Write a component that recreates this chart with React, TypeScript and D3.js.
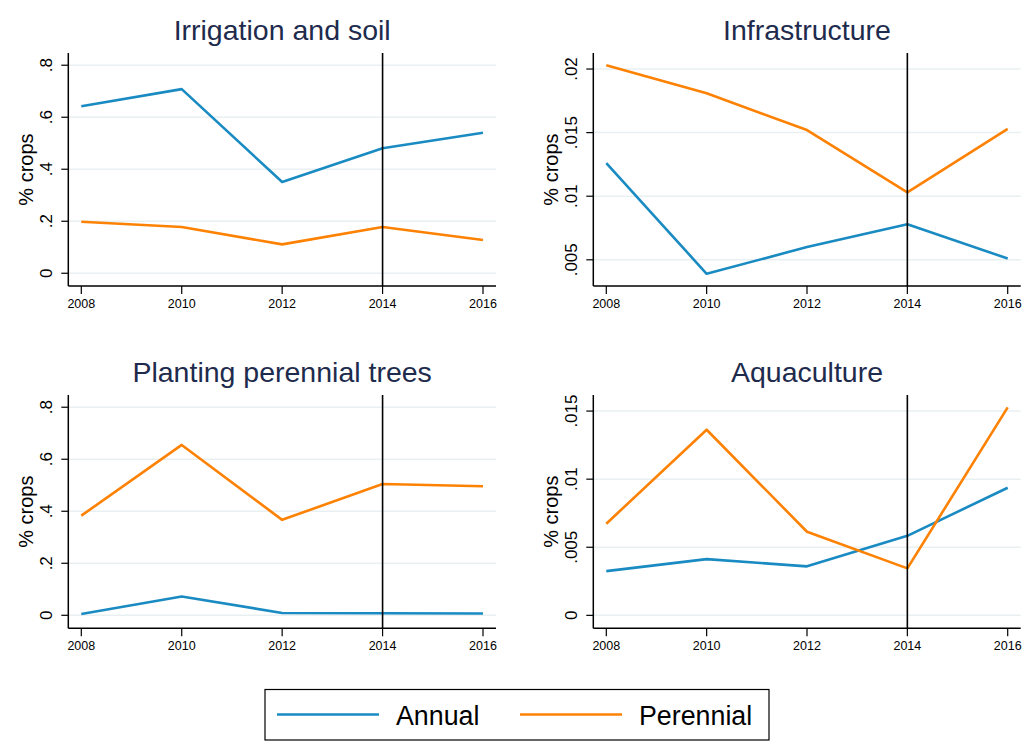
import React from 'react'
import * as d3 from 'd3'

const years = [2008, 2010, 2012, 2014, 2016]

const irrigationAnnual = [0.642, 0.708, 0.351, 0.481, 0.54]
const irrigationPerennial = [0.198, 0.178, 0.111, 0.178, 0.128]
const infraAnnual = [0.0126, 0.0039, 0.006, 0.0078, 0.0051]
const infraPerennial = [0.0203, 0.0181, 0.0152, 0.0103, 0.0153]
const treesAnnual = [0.005, 0.072, 0.009, 0.008, 0.007]
const treesPerennial = [0.383, 0.655, 0.367, 0.505, 0.496]
const aquaAnnual = [0.00325, 0.00413, 0.0036, 0.00584, 0.00937]
const aquaPerennial = [0.00673, 0.01363, 0.00614, 0.00345, 0.01527]

const shareTicks = [0, 0.2, 0.4, 0.6, 0.8]
const infraTicks = [0.005, 0.01, 0.015, 0.02]
const aquaTicks = [0, 0.005, 0.01, 0.015]

const seriesNames = ['Annual', 'Perennial']
const eventYear = 2014

const BLUE = '#1a8bc2'
const ORANGE = '#fd8204'
const TITLE = '#1e2b4d'
const FONT = '"Liberation Sans", Arial, Helvetica, sans-serif'

const W = 1033
const H = 742

// plot boxes, matched to the original Stata graph
const panels = [
  { title: 'Irrigation and soil', annual: irrigationAnnual, perennial: irrigationPerennial, ticks: shareTicks,
    yDomain: [-0.049, 0.847], left: 68.3, right: 496, top: 53, bottom: 286 },
  { title: 'Infrastructure', annual: infraAnnual, perennial: infraPerennial, ticks: infraTicks,
    yDomain: [0.00294, 0.02126], left: 593.3, right: 1020.7, top: 53, bottom: 286 },
  { title: 'Planting perennial trees', annual: treesAnnual, perennial: treesPerennial, ticks: shareTicks,
    yDomain: [-0.05, 0.847], left: 68.3, right: 496, top: 395, bottom: 628.3 },
  { title: 'Aquaculture', annual: aquaAnnual, perennial: aquaPerennial, ticks: aquaTicks,
    yDomain: [-0.00095, 0.01618], left: 593.3, right: 1020.7, top: 395, bottom: 628.3 },
]

const fmt = (v: number) => (v === 0 ? '0' : String(+v.toFixed(4)).replace(/^0\./, '.'))

function Panel({ p }: { p: any }) {
  const x = d3.scaleLinear().domain([2008, 2016]).range([p.left + 13, p.right - 13])
  const y = d3.scaleLinear().domain(p.yDomain).range([p.bottom, p.top])
  const line = d3.line<number>()
    .x((_, i) => x(years[i]))
    .y(d => y(d))
  const cy = (p.top + p.bottom) / 2

  return (
    <g>
      <text x={(p.left + p.right) / 2} y={p.top - 13} textAnchor="middle"
        fontSize={28.5} fill={TITLE} fontFamily={FONT}>{p.title}</text>

      {/* gridlines */}
      {p.ticks.map((t: number) => (
        <line key={'g' + t} x1={p.left} x2={p.right} y1={y(t)} y2={y(t)}
          stroke="#e9f0f2" strokeWidth={1.5} />
      ))}

      {/* y axis */}
      <line x1={p.left} x2={p.left} y1={p.top} y2={p.bottom} stroke="#000" strokeWidth={1.5} />
      {p.ticks.map((t: number) => (
        <g key={'y' + t}>
          <line x1={p.left - 7} x2={p.left} y1={y(t)} y2={y(t)} stroke="#000" strokeWidth={1.2} />
          <text transform={`translate(${p.left - 16},${y(t)}) rotate(-90)`} textAnchor="middle"
            fontSize={17} fontFamily={FONT} fill="#000">{fmt(t)}</text>
        </g>
      ))}
      <text transform={`translate(${p.left - 35},${cy}) rotate(-90)`} textAnchor="middle"
        fontSize={20} fontFamily={FONT} fill="#000">% crops</text>

      {/* x axis */}
      <line x1={p.left} x2={p.right} y1={p.bottom} y2={p.bottom} stroke="#000" strokeWidth={1.5} />
      {years.map(yr => (
        <g key={'x' + yr}>
          <line x1={x(yr)} x2={x(yr)} y1={p.bottom} y2={p.bottom + 8} stroke="#000" strokeWidth={1.2} />
          <text x={x(yr)} y={p.bottom + 22} textAnchor="middle" fontSize={12.5}
            fontFamily={FONT} fill="#000">{yr}</text>
        </g>
      ))}

      <path d={line(p.annual) || ''} fill="none" stroke={BLUE} strokeWidth={2.6} strokeLinejoin="round" />
      <path d={line(p.perennial) || ''} fill="none" stroke={ORANGE} strokeWidth={2.6} strokeLinejoin="round" />

      <line x1={x(eventYear)} x2={x(eventYear)} y1={p.top} y2={p.bottom} stroke="#000" strokeWidth={1.6} />
    </g>
  )
}

export default function App() {
  const colors = [BLUE, ORANGE]
  const legendX = [277, 520]
  return (
    <svg width={W} height={H} style={{ position: 'absolute', left: 0, top: 0, background: '#fff' }}>
      <rect width={W} height={H} fill="#fff" />
      {panels.map(p => <Panel key={p.title} p={p} />)}

      <rect x={265} y={689.5} width={504} height={50.5} fill="#fff" stroke="#000" strokeWidth={1.2} />
      {seriesNames.map((name, i) => (
        <g key={name}>
          <line x1={legendX[i]} x2={legendX[i] + 102} y1={714.5} y2={714.5} stroke={colors[i]} strokeWidth={2.6} />
          <text x={legendX[i] + 119} y={725} fontSize={26.8} fontFamily={FONT} fill="#000">{name}</text>
        </g>
      ))}
    </svg>
  )
}
